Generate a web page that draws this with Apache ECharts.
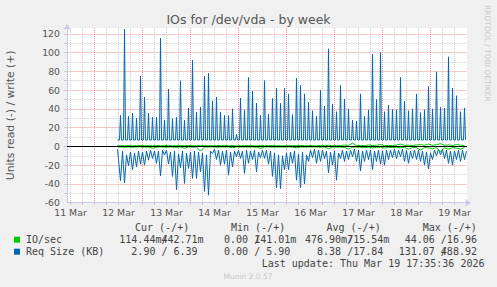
<!DOCTYPE html>
<html><head><meta charset="utf-8">
<script src="https://cdn.jsdelivr.net/npm/echarts@6/dist/echarts.min.js"></script>
<style>html,body{margin:0;padding:0;background:#f0f0f0;}#c{width:497px;height:287px;}</style>
</head><body><div id="c"></div>
<script>
// ---- data ----
const dayLabels = ['11 Mar','12 Mar','13 Mar','14 Mar','15 Mar','16 Mar','17 Mar','18 Mar','19 Mar'];
const yLabels = [-60,-40,-20,0,20,40,60,80,100,120];
const firstSpike = Date.UTC(2026,2,12,13,0);   // first 2-hourly sample
const dataStart = Date.UTC(2026,2,12,11,30);
// Req Size write (+), peak of each 2-hour burst
const writePeaks = [
 33,125,32,35.5,30,75,52.5,35.5,31,31,
 115.5,28,61,29.5,31,70,28,41,92,36.6,
 42,74.6,78,48.6,52.6,36.6,33,32.7,40,13,
 51.5,39,73.5,59,46,33,70,34.4,51,62,
 46,62,56,34,72.5,65,56,47,38,32,
 60,43,104,45,37,65,50.5,40,28,27,
 56,32,39,98.4,50,100,37,44,39.4,39,
 73.5,48,38,40,56,36,39,64,40,79.5,
 41.6,41,95.5,62,54,37,41];
const writeBase = 6.9;
// Req Size read (-): value at each burst and one hour later
const readDips = [
 -36.6,-38.7,-20.6,-25,-21.7,-19,-20,-14.6,-12.8,-18,
 -31.6,-9.2,-18.8,-32,-46,-22.7,-39.4,-23.5,-34,-34,
 -27,-48,-52,-7.5,-13.9,-20,-19,-30.6,-21.7,-11,
 -12.8,-28.8,-18,-13.9,-27,-12,-12.8,-19,-32,-44,
 -45,-25,-25,-18,-36,-44,-40,-16,-12,-18,
 -16,-13,-28,-20,-36,-13,-16,-14,-11,-16,
 -26,-16,-14,-25,-16,-19,-20,-14,-12,-13,
 -11,-16,-18,-13,-14,-16,-20,-24,-14,-10,
 -9,-13,-18,-20,-14,-16,-14];
const readMids = [
 -5,-9,-6,-7,-5,-6,-5,-4,-5,-5,-4,
 -4,-6,-5,-8,-5,-7,-6,-5,-6,-7,-9,-5,-3,
 -4,-5,-4,-6,-5,-4,-5,-4,-5,-4,-6,-4,-4,
 -5,-7,-9,-10,-7,-6,-5,-8,-6,-9,-4,-3,
 -4,-4,-5,-6,-5,-7,-4,-5,-4,-3,-4,-5,-4,
 -4,-5,-4,-5,-4,-4,-3,-4,-3,-4,-5,-4,
 -4,-5,-6,-7,-4,-3,-3,-4,-5,-5,-4,-4,-5];
// IO/sec write (+) and read (-)
const greenWrite = [
 0.8,0.6,0.9,0.7,0.8,1.0,0.7,0.8,0.6,0.9,
 0.7,0.8,1.2,0.6,0.8,0.9,0.7,1.0,0.8,0.6,
 0.9,0.7,0.8,0.6,0.9,0.8,1.1,0.7,0.8,0.6,
 0.8,0.7,0.9,0.8,0.6,0.9,0.7,0.8,1.0,0.7,
 0.8,0.6,0.9,0.7,0.8,1.0,0.7,0.9,0.8,0.6,
 0.9,0.7,1.2,0.8,0.7,0.9,1.5,1.0,3.5,0.8,
 1.0,0.8,1.5,0.9,1.2,2.0,0.9,1.1,0.8,1.4,
 2.5,1.0,1.3,0.9,1.6,2.0,1.1,2.5,1.2,1.8,
 3.0,1.2,1.6,1.0,2.0,1.3,1.1];
const greenRead = [
 -0.6,-0.8,-0.5,-1.0,-0.6,-0.5,-0.9,-0.6,-2.0,-0.7,
 -0.5,-0.8,-0.6,-0.7,-1.0,-0.6,-2.0,-0.5,-0.8,-0.6,
 -5.0,-0.7,-0.6,-0.5,-0.8,-0.6,-0.7,-0.5,-1.5,-0.6,
 -0.8,-0.5,-0.7,-0.6,-0.9,-2.0,-0.6,-0.5,-0.8,-0.7,
 -0.6,-0.8,-0.5,-0.7,-1.5,-0.6,-0.8,-0.5,-0.7,-0.6,
 -0.8,-0.6,-2.5,-0.7,-0.6,-0.9,-1.0,-3.0,-0.8,-0.7,
 -0.9,-1.2,-0.8,-1.5,-1.0,-0.9,-1.8,-1.0,-1.2,-0.9,
 -1.5,-1.1,-3.0,-1.0,-1.4,-4.0,-1.2,-1.6,-2.5,-1.3,
 -6.0,-1.5,-3.0,-1.2,-1.8,-3.0,-1.4];
const legendRows = [
  {name:'IO/sec', color:'#00cc00', read:['114.44m','0.00','476.90m','44.06'], write:['442.71m','141.01m','715.54m','16.96']},
  {name:'Req Size (KB)', color:'#0066b3', read:['2.90','0.00','8.38','131.07'], write:['6.39','5.90','17.84','488.92']}
];
const legendHeads = ['Cur (-/+)','Min (-/+)','Avg (-/+)','Max (-/+)'];
const lastUpdate = 'Last update: Thu Mar 19 17:35:36 2026';

// ---- build ----
const H = 3600e3;
const xMin = Date.UTC(2026,2,11,10,15), xMax = xMin + 200*H;
const lastGrid = Date.UTC(2026,2,19,17,35);
const writeData = [[dataStart, writeBase]];
const readData = [[dataStart, -3]];
const gW = [[dataStart, 0.5]], gR = [[dataStart, -0.5]];
writePeaks.forEach((v,k)=>{
  const t = firstSpike + 2*k*H;
  writeData.push([t-0.5*H, writeBase],[t, v],[t+0.5*H, writeBase]);
  readData.push([t, readDips[k]],[t+H, readMids[k]]);
  gW.push([t, greenWrite[k]]); gR.push([t, greenRead[k]]);
});
// vertical grid every 6 hours (red at midnight), horizontal every 10 (red at 20s)
const xGrid = [];
for (let t = Date.UTC(2026,2,11,12); t < lastGrid; t += 6*H) xGrid.push(t);
const xGridColors = xGrid.slice(0,4).map(t => new Date(t).getUTCHours()===0 ? '#ee9a9a' : '#cccccc');
const yMinor = []; for (let v=-50; v<=120; v+=10) yMinor.push(v);
const yMajor = yLabels.filter(v => v > -60);
const noonVals = dayLabels.map(s => Date.UTC(2026,2,parseInt(s),12));

const mono = '10px "DejaVu Sans Mono"';
const CW = 6.02;
const txt = '#444';
const graphics = [];
function T(x,y,text,font,fill){
  const lead = text.length - text.replace(/^ +/,'').length;
  graphics.push({type:'text', silent:true, x:x+lead*CW, y:y,
    style:{text:text.replace(/^ +/,''), font:font, fill:fill, textAlign:'left', textVerticalAlign:'middle', align:'left', verticalAlign:'middle'}});
}
function fmt(s){ let suf=' ', n=s; if (s.endsWith('m')) {suf='m'; n=s.slice(0,-1);} return n.padStart(6,' ')+suf; }
const colX = [119.3, 212, 305, 398.7];
const headX = [135, 231, 326.5, 422.7];
legendHeads.forEach((h,i)=>T(headX[i],227.7,h,mono,txt));
legendRows.forEach((r,ri)=>{
  const y = 239.7 + ri*12;
  graphics.push({type:'rect', silent:true, shape:{x:14,y:y-3,width:6,height:6}, style:{fill:r.color}});
  T(26,y,r.name,mono,txt);
  r.read.forEach((v,i)=>{
    T(colX[i],y,fmt(v),mono,txt);
    T(colX[i]+7*CW,y,'/',mono,txt);
    T(colX[i]+7*CW,y,fmt(r.write[i]),mono,txt);
  });
});
T(261.7,263.3,lastUpdate,mono,txt);
function C(x,y,text,font,fill,rot){
  graphics.push({type:'text', silent:true, x:x, y:y, rotation:rot||0, style:{text:text, font:font, fill:fill, textAlign:'center', textVerticalAlign:'middle', align:'center', verticalAlign:'middle'}});
}
C(248.5,19.5,'IOs for /dev/vda - by week','12.5px "DejaVu Sans"','#555');
C(248,276,'Munin 2.0.57','7.5px "DejaVu Sans"','#c8c8c8');
C(487,53.4,'RRDTOOL / TOBI OETIKER','7.5px "DejaVu Sans"','#c8c8c8',-Math.PI/2);
C(10.5,115.3,'Units read (-) / write (+)','10.8px "DejaVu Sans"','#555',Math.PI/2);

const axisCol = '#c8c8ee';
const noEmph = {disabled:true};
function line(name,data,color,z){
  return {type:'line', name:name, data:data, z:z, symbol:'none', showSymbol:false, silent:true, emphasis:noEmph, lineStyle:{color:color, width:1}};
}
const option = {
  animation:false,
  backgroundColor:'#f0f0f0',
  grid:{left:67, top:28, width:400, height:174.7, show:true, backgroundColor:'#ffffff', borderWidth:0},
  xAxis:{type:'value', min:xMin, max:xMax,
    axisLine:{onZero:false, lineStyle:{color:axisCol, width:1}, symbol:['none','arrow'], symbolSize:[6,6], symbolOffset:[0,4]},
    axisTick:{show:true, customValues:xGrid, length:2, lineStyle:{color:'#d8b4b4'}},
    axisLabel:{customValues:noonVals, margin:5, color:'#555', fontSize:9.33, fontFamily:'DejaVu Sans',
      formatter:v=>{const i=noonVals.indexOf(v); return i>=0?dayLabels[i]:'';}},
    splitLine:{show:true, lineStyle:{color:xGridColors, type:[1,1], width:1}}},
  yAxis:[
    {type:'value', min:-60, max:126.2,
      axisLine:{onZero:false, lineStyle:{color:axisCol, width:1}, symbol:['none','arrow'], symbolSize:[6,6], symbolOffset:[0,4]},
      axisTick:{show:true, customValues:yMinor, length:3, lineStyle:{color:'#cccccc'}},
      axisLabel:{customValues:yLabels, margin:7, color:'#555', fontSize:9.33, fontFamily:'DejaVu Sans',
        formatter:v=>(yLabels.indexOf(v)>=0?String(v):'')},
      splitLine:{show:true, lineStyle:{color:'#e6e6e6', type:'solid', width:1}}},
    {type:'value', min:-60, max:126.2, position:'left',
      axisLine:{show:false}, axisLabel:{show:false},
      axisTick:{show:false, customValues:yMajor},
      splitLine:{show:true, lineStyle:{color:'#f5c8c8', type:'solid', width:1}}}
  ],
  series:[
    line('Req Size read', readData, '#0066b3', 2),
    line('Req Size write', writeData, '#0066b3', 2),
    {type:'line', data:[], z:3, silent:true, markLine:{silent:true, symbol:['none','none'], label:{show:false}, emphasis:noEmph, animation:false, data:[{yAxis:0, lineStyle:{color:'#000', type:'solid', width:1}}]}},
    line('IO/sec read', gR, '#00cc00', 4),
    line('IO/sec write', gW, '#00cc00', 4)
  ],
  graphic:graphics
};
const chart = echarts.init(document.getElementById('c'), null, {renderer:'svg'});
chart.setOption(option);
</script></body></html>
